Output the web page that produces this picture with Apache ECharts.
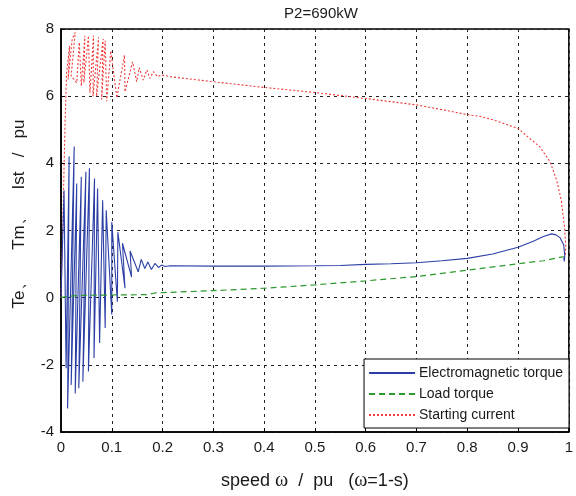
<!DOCTYPE html>
<html>
<head>
<meta charset="utf-8">
<script src="https://cdn.jsdelivr.net/npm/echarts@6/dist/echarts.min.js"></script>
<style>
  html, body { margin: 0; padding: 0; background: #fff; }
  #chart { width: 576px; height: 496px; }
</style>
</head>
<body>
<div id="chart"></div>
<script>
const FONT_FAMILY = "'Liberation Sans', Arial, sans-serif"
const COLORS = {
  te: '#2b3fa6',
  tm: '#2c9a2c',
  ist: '#f03a3a',
  text: '#1a1a1a',
  grid: '#222',
}

const TITLE = 'P2=690kW'
const SERIES_NAMES = ['Electromagnetic torque', 'Load torque', 'Starting current']
const X_TICKS = [0, 0.1, 0.2, 0.3, 0.4, 0.5, 0.6, 0.7, 0.8, 0.9, 1]
const Y_TICKS = [-4, -2, 0, 2, 4, 6, 8]

// [speed, value] pairs
const TE_POINTS = [
  [0.000, 0.00], [0.006, 3.20], [0.010, -2.10], [0.016, 4.20], [0.013, -3.30],
  [0.026, 4.50], [0.020, -2.60], [0.031, 3.40], [0.028, -2.85], [0.040, 3.60],
  [0.035, -2.70], [0.049, 3.75], [0.043, -2.50], [0.056, 3.85], [0.054, -2.20],
  [0.066, 3.55], [0.065, -1.80], [0.072, 3.25], [0.076, -1.35], [0.082, 2.90],
  [0.087, -0.90], [0.089, 2.60], [0.100, -0.50], [0.100, 2.25], [0.111, -0.12],
  [0.112, 1.95], [0.126, 0.28], [0.121, 1.62], [0.139, 0.61], [0.136, 1.39],
  [0.152, 0.77], [0.158, 1.14], [0.165, 0.87], [0.171, 1.06], [0.178, 0.84],
  [0.185, 1.02], [0.192, 0.90], [0.198, 0.97], [0.205, 0.93], [0.215, 0.95],
  [0.300, 0.94], [0.400, 0.94], [0.500, 0.95], [0.550, 0.96], [0.600, 0.99],
  [0.650, 1.01], [0.700, 1.04], [0.750, 1.10], [0.800, 1.17], [0.850, 1.30],
  [0.900, 1.50], [0.930, 1.68], [0.950, 1.82], [0.966, 1.90], [0.975, 1.87],
  [0.983, 1.78], [0.990, 1.57], [0.992, 1.25], [0.991, 1.08], [0.990, 1.20],
]

const TM_POINTS = [
  [0.000, 0.00], [0.010, 0.03], [0.030, 0.06], [0.050, 0.07], [0.100, 0.08],
  [0.170, 0.09], [0.185, 0.14], [0.200, 0.15], [0.300, 0.21], [0.400, 0.28],
  [0.500, 0.38], [0.600, 0.50], [0.700, 0.63], [0.800, 0.82], [0.900, 1.01],
  [0.950, 1.10], [0.990, 1.22],
]

const IST_POINTS = [
  [0.000, 0.00], [0.004, 2.50], [0.008, 5.20], [0.011, 6.70], [0.017, 7.50],
  [0.014, 6.50], [0.022, 7.70], [0.028, 7.90], [0.020, 6.60], [0.031, 6.40],
  [0.036, 7.60], [0.040, 6.30], [0.047, 7.80], [0.045, 6.40], [0.054, 7.80],
  [0.057, 6.10], [0.064, 7.80], [0.063, 6.00], [0.074, 7.75], [0.070, 6.00],
  [0.083, 7.70], [0.080, 5.90], [0.087, 7.65], [0.090, 5.85], [0.098, 7.35],
  [0.110, 5.95], [0.125, 7.22], [0.126, 6.13], [0.141, 7.02], [0.149, 6.43],
  [0.154, 6.85], [0.162, 6.48], [0.169, 6.78], [0.175, 6.53], [0.182, 6.73],
  [0.190, 6.58], [0.198, 6.63], [0.220, 6.57], [0.300, 6.43], [0.400, 6.26],
  [0.500, 6.11], [0.600, 5.93], [0.700, 5.74], [0.750, 5.60], [0.800, 5.45],
  [0.825, 5.40], [0.850, 5.30], [0.900, 5.04], [0.923, 4.74], [0.943, 4.49],
  [0.963, 4.05], [0.976, 3.50], [0.985, 2.91], [0.9915, 2.11], [0.994, 1.52],
  [0.993, 1.22],
]

const chart = echarts.init(document.getElementById('chart'))

const dashedSplit = { show: true, lineStyle: { color: COLORS.grid, type: [3, 4], width: 1 } }

chart.setOption({
  animation: false,
  backgroundColor: '#fff',
  title: {
    text: TITLE,
    left: 316,
    top: 1,
    textAlign: 'center',
    textStyle: { fontFamily: FONT_FAMILY, fontSize: 15, fontWeight: 'normal', color: COLORS.text },
  },
  grid: {
    left: 61, right: 6, top: 29, bottom: 64,
    show: true, borderColor: '#000', borderWidth: 1.5,
  },
  legend: {
    data: SERIES_NAMES,
    orient: 'vertical',
    right: 7,
    bottom: 68,
    width: 227,
    itemWidth: 46,
    itemHeight: 14,
    itemGap: 7,
    padding: [7, 6, 6, 4],
    backgroundColor: '#fff',
    borderColor: '#000',
    borderWidth: 1,
    borderRadius: 0,
    itemStyle: { opacity: 0 },
    textStyle: { fontFamily: FONT_FAMILY, fontSize: 14, color: COLORS.text, padding: [0, 0, 0, -1] },
  },
  xAxis: {
    type: 'value',
    min: 0,
    max: 1,
    interval: 0.1,
    name: 'speed {w|ω}  /  pu   ({w|ω}=1-s)',
    nameLocation: 'middle',
    nameGap: 39,
    nameTextStyle: {
      fontFamily: FONT_FAMILY, fontSize: 18, color: COLORS.text,
      rich: { w: { fontFamily: "'Liberation Serif', serif", fontSize: 20, color: COLORS.text } },
    },
    axisLine: { onZero: false, lineStyle: { color: '#000', width: 1.5 } },
    axisTick: { inside: true, length: 4, lineStyle: { color: '#000' } },
    axisLabel: {
      fontFamily: FONT_FAMILY, fontSize: 15, color: COLORS.text, margin: 8,
      formatter: v => (X_TICKS.some(t => Math.abs(t - v) < 1e-9) ? String(+v.toFixed(1)) : ''),
    },
    splitLine: dashedSplit,
  },
  yAxis: {
    type: 'value',
    min: -4,
    max: 8,
    interval: 2,
    name: '       Te、     Tm、    Ist   /   pu',
    nameLocation: 'middle',
    nameGap: 33,
    nameTextStyle: { fontFamily: FONT_FAMILY, fontSize: 17, color: COLORS.text },
    axisLine: { onZero: false, lineStyle: { color: '#000', width: 1.5 } },
    axisTick: { inside: true, length: 4, lineStyle: { color: '#000' } },
    axisLabel: {
      fontFamily: FONT_FAMILY, fontSize: 15, color: COLORS.text, margin: 7,
      formatter: v => (Y_TICKS.includes(v) ? String(v) : ''),
    },
    splitLine: dashedSplit,
  },
  series: [
    {
      name: SERIES_NAMES[0],
      type: 'line',
      data: TE_POINTS,
      showSymbol: false,
      symbol: 'none',
      color: COLORS.te,
      lineStyle: { color: COLORS.te, width: 1.1 },
      z: 3,
    },
    {
      name: SERIES_NAMES[1],
      type: 'line',
      data: TM_POINTS,
      showSymbol: false,
      symbol: 'none',
      color: COLORS.tm,
      lineStyle: { color: COLORS.tm, width: 1.2, type: [6, 4] },
      z: 5,
    },
    {
      name: SERIES_NAMES[2],
      type: 'line',
      data: IST_POINTS,
      showSymbol: false,
      symbol: 'none',
      color: COLORS.ist,
      lineStyle: { color: COLORS.ist, width: 1.1, type: [2, 2] },
      z: 2,
    },
  ],
})
</script>
</body>
</html>
